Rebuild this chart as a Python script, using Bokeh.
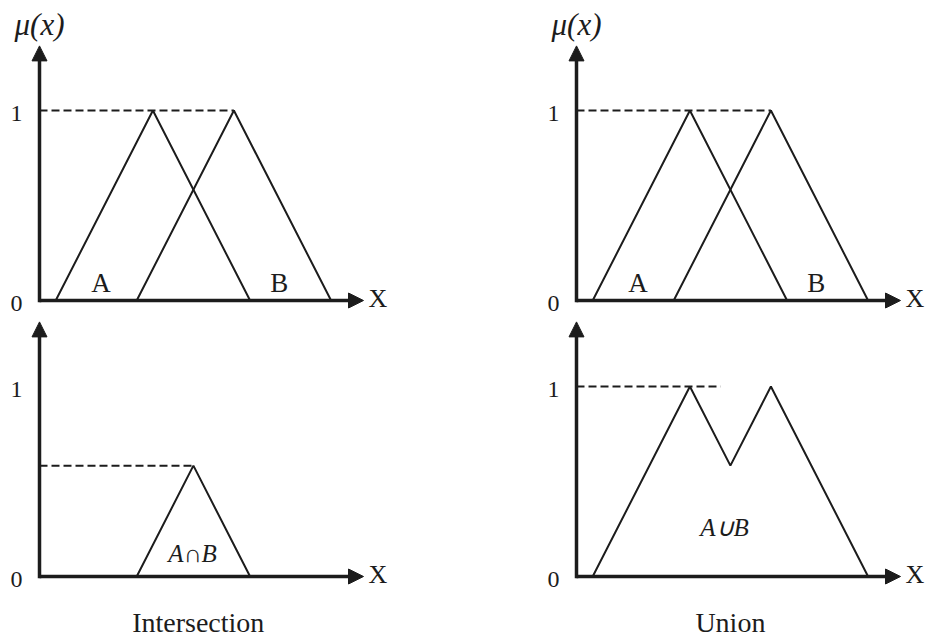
from bokeh.plotting import figure
from bokeh.layouts import column, row
from bokeh.models import Range1d, Arrow, NormalHead
from bokeh.core.properties import value
from bokeh.embed import file_html
from bokeh.resources import INLINE

# Triangular membership functions: (left foot, peak, right foot)
set_a = [0.5, 3.5, 6.5]
set_b = [3.0, 6.0, 9.0]
tri_mu = [0.0, 1.0, 0.0]

tick_values = [0, 1]
tick_labels = ["0", "1"]

set_names = ["A", "B"]
set_label_x = [1.9, 7.4]
set_label_y = [0.09, 0.09]

panel_titles = ["Intersection", "Union"]
title_x = [4.9, 4.75]
op_labels = ["A\u2229B", "A\u222aB"]
op_label_x = [4.72, 4.57]
op_label_y = [0.12, 0.26]

union_dash_end = 4.45

x_axis_end = 10.0
y_axis_end = 1.34

# Crossover of A's falling edge with B's rising edge
a_slope = 1.0 / (set_a[2] - set_a[1])
b_slope = 1.0 / (set_b[1] - set_b[0])
x_cross = (set_a[2] * a_slope + set_b[0] * b_slope) / (a_slope + b_slope)
mu_cross = (set_a[2] - x_cross) * a_slope

inter_x = [set_b[0], x_cross, set_a[2]]
inter_mu = [0.0, mu_cross, 0.0]
union_x = [set_a[0], set_a[1], x_cross, set_b[1], set_b[2]]
union_mu = [0.0, 1.0, mu_cross, 1.0, 0.0]

INK = "#1c1c1c"
SERIF = "Liberation Serif"
PX_X = 32.4   # pixels per x unit
PX_Y = 190.0  # pixels per membership unit


def panel(width, height, ox, oy):
    p = figure(width=width, height=height, output_backend="svg",
               toolbar_location=None, x_axis_location=None, y_axis_location=None,
               x_range=Range1d(-ox / PX_X, (width - ox) / PX_X),
               y_range=Range1d(-(height - oy) / PX_Y, oy / PX_Y),
               min_border=0, outline_line_color=None, background_fill_color="white",
               border_fill_color="white")
    p.grid.visible = False
    head = dict(size=15, fill_color=INK, line_color=INK, line_width=1)
    p.add_layout(Arrow(x_start=0, y_start=0, x_end=x_axis_end, y_end=0,
                       line_width=3.5, line_color=INK, end=NormalHead(**head)))
    p.add_layout(Arrow(x_start=0, y_start=-0.009, x_end=0, y_end=y_axis_end,
                       line_width=3.5, line_color=INK, end=NormalHead(**head)))
    p.text(x=[0, 0], y=tick_values, text=tick_labels, x_offset=-23, y_offset=3,
           text_align="center", text_baseline="middle",
           text_font=value(SERIF), text_font_size="24px", text_color=INK)
    p.text(x=[x_axis_end], y=[0], text=["X"], x_offset=5, y_offset=-2,
           text_align="left", text_baseline="middle",
           text_font=value(SERIF), text_font_size="26px", text_color=INK)
    return p


def top_panel(width, ox):
    p = panel(width, 320, ox, 300)
    p.text(x=[0], y=[y_axis_end], text=["\u03bc(x)"], y_offset=-21,
           text_align="center", text_baseline="middle", text_font=value(SERIF),
           text_font_style="italic", text_font_size="31px", text_color=INK)
    p.line([0, set_b[1]], [1, 1], line_color=INK, line_width=2, line_dash="8 4")
    p.line(set_a, tri_mu, line_color=INK, line_width=2)
    p.line(set_b, tri_mu, line_color=INK, line_width=2)
    p.text(x=set_label_x, y=set_label_y, text=set_names, text_align="center",
           text_baseline="middle", text_font=value(SERIF), text_font_size="27px",
           text_color=INK)
    return p


def bottom_panel(width, ox, xs, mus, dash_x, dash_mu, k):
    p = panel(width, 319, ox, 256)
    p.line([0, dash_x], [dash_mu, dash_mu], line_color=INK, line_width=2, line_dash="8 4")
    p.line(xs, mus, line_color=INK, line_width=2)
    p.text(x=[op_label_x[k]], y=[op_label_y[k]], text=[op_labels[k]],
           text_align="center", text_baseline="middle", text_font=value(SERIF),
           text_font_style="italic", text_font_size="25px", text_color=INK)
    p.text(x=[title_x[k]], y=[-0.24], text=[panel_titles[k]],
           text_align="center", text_baseline="middle", text_font=value(SERIF),
           text_font_size="28px", text_color=INK)
    return p


tl = top_panel(537, 39)
tr = top_panel(389, 576 - 537)
bl = bottom_panel(537, 39, inter_x, inter_mu, x_cross, mu_cross, 0)
br = bottom_panel(389, 576 - 537, union_x, union_mu, union_dash_end, 1.0, 1)

layout = column(row(tl, tr, spacing=0), row(bl, br, spacing=0), spacing=0)

with open("out.html", "w") as f:
    f.write(file_html(layout, INLINE))
